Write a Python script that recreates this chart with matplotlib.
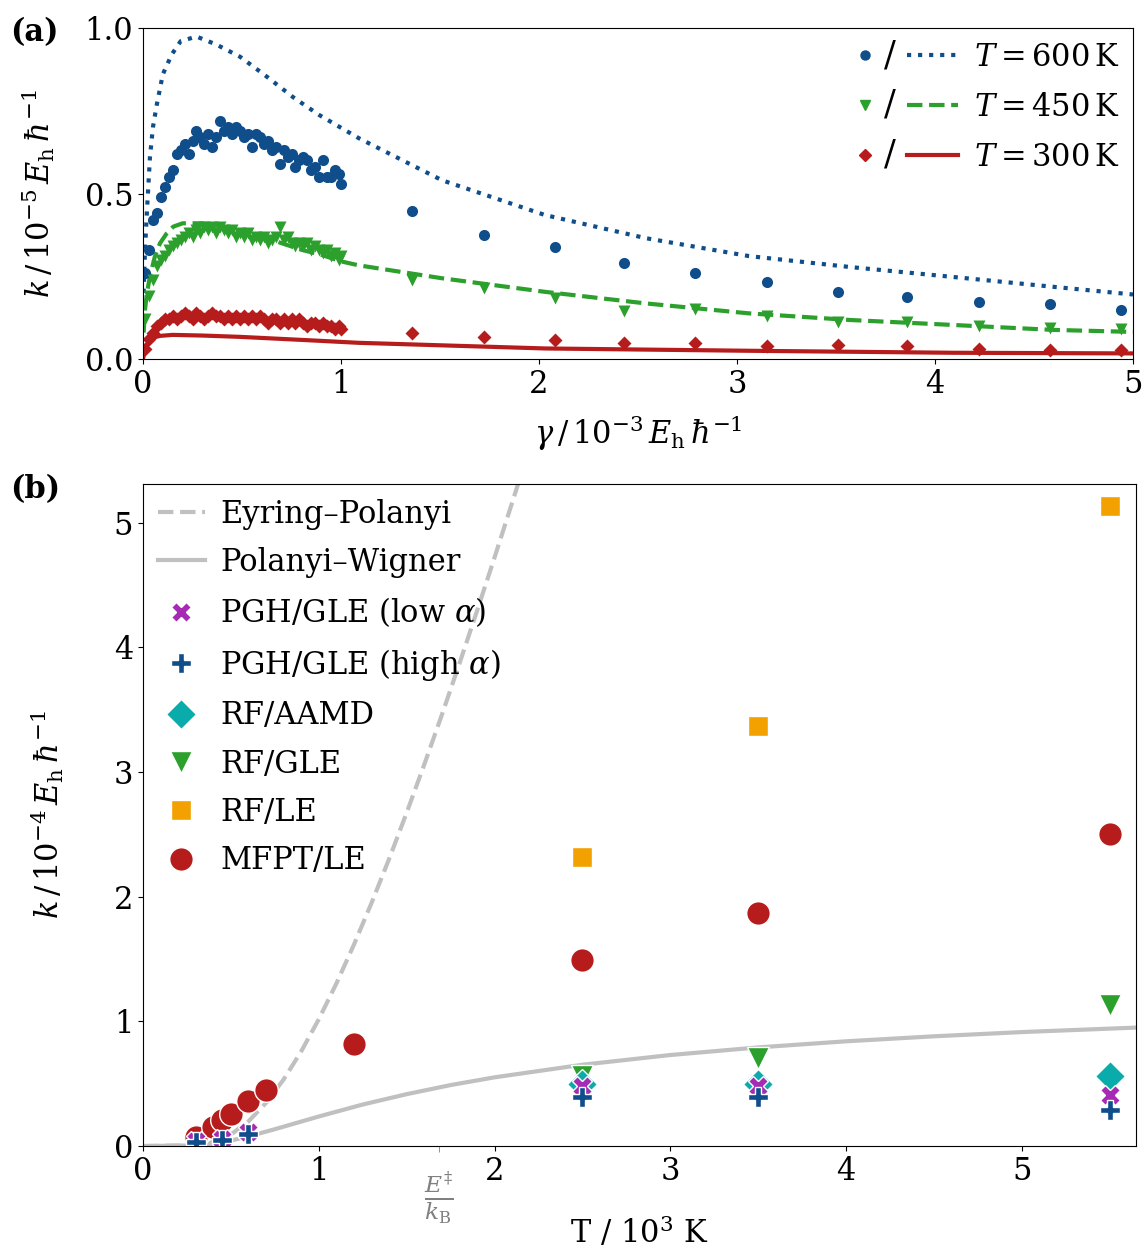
import numpy as np
import matplotlib
matplotlib.use("Agg")
import matplotlib.pyplot as plt
from matplotlib.lines import Line2D
from matplotlib.text import Text
from matplotlib.legend_handler import HandlerBase

plt.rcParams['font.family'] = ['DejaVu Serif']
plt.rcParams['mathtext.fontset'] = 'dejavuserif'
plt.rcParams['font.size'] = 22

# ---------------- Panel (a) data ----------------
gamma_dense = [0.01, 0.03, 0.05, 0.07, 0.09, 0.11, 0.13, 0.15, 0.17, 0.19,
               0.21, 0.23, 0.25, 0.27, 0.29, 0.31, 0.33, 0.35, 0.37, 0.39,
               0.41, 0.43, 0.45, 0.47, 0.49, 0.51, 0.53, 0.55, 0.57, 0.59,
               0.61, 0.63, 0.65, 0.67, 0.69, 0.71, 0.73, 0.75, 0.77, 0.79,
               0.81, 0.83, 0.85, 0.87, 0.89, 0.91, 0.93, 0.95, 0.97, 0.99, 1.00]
k600_dense = [0.26, 0.33, 0.42, 0.44, 0.49, 0.52, 0.55, 0.57, 0.62, 0.63,
              0.65, 0.62, 0.66, 0.69, 0.67, 0.65, 0.68, 0.64, 0.67, 0.72,
              0.69, 0.70, 0.68, 0.70, 0.69, 0.67, 0.68, 0.64, 0.68, 0.67,
              0.65, 0.66, 0.63, 0.64, 0.59, 0.63, 0.61, 0.62, 0.58, 0.60,
              0.61, 0.60, 0.57, 0.58, 0.55, 0.60, 0.55, 0.55, 0.57, 0.56, 0.53]
k450_dense = [0.12, 0.19, 0.24, 0.28, 0.30, 0.31, 0.33, 0.34, 0.35, 0.36,
              0.37, 0.38, 0.37, 0.39, 0.38, 0.40, 0.39, 0.40, 0.38, 0.40,
              0.39, 0.38, 0.39, 0.37, 0.38, 0.37, 0.38, 0.36, 0.37, 0.36,
              0.37, 0.35, 0.36, 0.37, 0.40, 0.36, 0.37, 0.35, 0.34, 0.35,
              0.34, 0.35, 0.33, 0.34, 0.33, 0.32, 0.33, 0.31, 0.32, 0.30, 0.31]
k300_dense = [0.03, 0.06, 0.08, 0.10, 0.11, 0.12, 0.12, 0.13, 0.12, 0.13,
              0.14, 0.13, 0.12, 0.14, 0.13, 0.12, 0.13, 0.14, 0.13, 0.13,
              0.12, 0.13, 0.12, 0.13, 0.12, 0.13, 0.12, 0.13, 0.12, 0.13,
              0.12, 0.11, 0.12, 0.12, 0.11, 0.12, 0.11, 0.12, 0.11, 0.12,
              0.11, 0.10, 0.11, 0.11, 0.10, 0.11, 0.10, 0.10, 0.09, 0.10, 0.09]

gamma_sparse = [1.36, 1.72, 2.08, 2.43, 2.79, 3.15, 3.51, 3.86, 4.22, 4.58, 4.94]
k600_sparse = [0.448, 0.374, 0.337, 0.291, 0.259, 0.232, 0.203, 0.188, 0.171, 0.166, 0.148]
k450_sparse = [0.240, 0.214, 0.183, 0.145, 0.150, 0.130, 0.113, 0.113, 0.100, 0.093, 0.090]
k300_sparse = [0.080, 0.066, 0.057, 0.047, 0.049, 0.039, 0.042, 0.039, 0.029, 0.028, 0.028]

gamma_c600 = [0.003, 0.01, 0.02, 0.035, 0.05, 0.07, 0.10, 0.145, 0.19, 0.27, 0.37,
              0.49, 0.625, 0.76, 0.89, 1.09, 1.51, 2.03, 2.54, 3.06, 3.57, 4.09, 4.6, 5.0]
k600_curve = [0.20, 0.33, 0.45, 0.61, 0.70, 0.77, 0.86, 0.92, 0.96, 0.974, 0.95,
              0.913, 0.853, 0.79, 0.737, 0.667, 0.54, 0.435, 0.365, 0.311, 0.278, 0.248, 0.218, 0.195]
gamma_c450 = [0.003, 0.01, 0.02, 0.035, 0.06, 0.086, 0.12, 0.153, 0.2, 0.3, 0.4,
              0.5, 0.6, 0.7, 0.8, 0.9, 1.0, 1.09, 1.51, 2.03, 2.54, 3.06, 3.57, 4.09, 4.6, 5.0]
k450_curve = [0.08, 0.15, 0.20, 0.25, 0.31, 0.35, 0.38, 0.40, 0.41, 0.41, 0.40,
              0.385, 0.37, 0.35, 0.33, 0.315, 0.295, 0.283, 0.244, 0.203, 0.168, 0.138, 0.118, 0.103, 0.088, 0.082]
gamma_c300 = [0.0, 0.01, 0.035, 0.06, 0.086, 0.15, 0.3, 0.49, 0.83, 1.09, 2.03, 3.06, 4.09, 5.0]
k300_curve = [0.0, 0.03, 0.057, 0.066, 0.070, 0.073, 0.071, 0.067, 0.057, 0.049, 0.032, 0.025, 0.019, 0.017]

temps_a = ['600', '450', '300']

# ---------------- Panel (b) data ----------------
T_eyring = [0.0, 0.3, 0.38, 0.45, 0.51, 0.6, 0.7, 0.8, 0.9, 1.0, 1.1, 1.2, 1.3, 1.4,
            1.5, 1.6, 1.7, 1.8, 1.9, 2.0, 2.1, 2.2]
k_eyring = [0.0, 0.006, 0.025, 0.058, 0.103, 0.198, 0.346, 0.534, 0.759, 1.017, 1.303,
            1.615, 1.949, 2.302, 2.673, 3.059, 3.457, 3.868, 4.290, 4.720, 5.159, 5.605]
T_pw = [0.0, 0.3, 0.4, 0.5, 0.6, 0.75, 1.0, 1.25, 1.5, 1.75, 2.0, 2.5, 3.0, 3.5,
        4.0, 4.5, 5.0, 5.65]
k_pw = [0.0, 0.005, 0.019, 0.044, 0.077, 0.135, 0.237, 0.333, 0.416, 0.489, 0.551,
        0.652, 0.730, 0.791, 0.840, 0.880, 0.914, 0.950]

T_pgh = [0.3, 0.45, 0.6, 2.5, 3.5, 5.5]
k_pgh_low = [0.04, 0.06, 0.11, 0.48, 0.48, 0.41]
k_pgh_high = [0.03, 0.05, 0.10, 0.39, 0.39, 0.29]
T_rf = [2.5, 3.5, 5.5]
k_rf_aamd = [0.50, 0.50, 0.56]
k_rf_gle = [0.56, 0.71, 1.13]
k_rf_le = [2.32, 3.37, 5.13]
T_mfpt = [0.3, 0.4, 0.45, 0.5, 0.6, 0.7, 1.2, 2.5, 3.5, 5.5]
k_mfpt = [0.07, 0.155, 0.21, 0.26, 0.36, 0.45, 0.82, 1.49, 1.87, 2.50]

E_over_kB = 1.685

# colours
c_blue = '#104e8b'
c_green = '#2ca02c'
c_red = '#b71c1c'
c_purple = '#a52ab4'
c_cyan = '#0aabab'
c_orange = '#f2a100'
c_gray = '#c0c0c0'


class MarkerSlashLine(HandlerBase):
    def create_artists(self, legend, orig_handle, xdescent, ydescent,
                       width, height, fontsize, trans):
        mk, ln = orig_handle
        y = height / 2.0 - ydescent
        x0 = -xdescent
        m = Line2D([x0 + width * 0.07], [y], marker=mk.get_marker(),
                   color=mk.get_color(), markersize=mk.get_markersize(),
                   linestyle='none', transform=trans)
        s = Text(x0 + width * 0.32, y, '/', ha='center', va='center',
                 fontsize=fontsize * 1.15, transform=trans)
        l = Line2D([x0 + width * 0.49, x0 + width], [y, y], color=ln.get_color(),
                   linestyle=ln.get_linestyle(), linewidth=ln.get_linewidth(),
                   transform=trans)
        return [m, s, l]


fig = plt.figure(figsize=(11.47, 12.48), dpi=100)
ax1 = fig.add_axes([0.1247, 0.7123, 0.8631, 0.2653])
ax2 = fig.add_axes([0.1247, 0.0817, 0.8657, 0.5305])

# ----- panel (a) -----
ax1.plot(gamma_c600, k600_curve, linestyle=':', color=c_blue, lw=3)
ax1.plot(gamma_c450, k450_curve, linestyle='--', color=c_green, lw=3)
ax1.plot(gamma_c300, k300_curve, linestyle='-', color=c_red, lw=3)
ax1.plot(gamma_dense + gamma_sparse, k600_dense + k600_sparse, 'o', color=c_blue, ms=8, mec='none')
ax1.plot(gamma_dense + gamma_sparse, k450_dense + k450_sparse, 'v', color=c_green, ms=8.5, mec='none')
ax1.plot(gamma_dense + gamma_sparse, k300_dense + k300_sparse, 'D', color=c_red, ms=7, mec='none')

ax1.set_xlim(0, 5)
ax1.set_ylim(0, 1.0)
ax1.set_xticks([0, 1, 2, 3, 4, 5])
ax1.set_yticks([0.0, 0.5, 1.0])
ax1.set_yticklabels(['0.0', '0.5', '1.0'])
ax1.set_xlabel(r'$\gamma\,/\,10^{-3}\,E_\mathrm{h}\,\hbar^{-1}$', labelpad=10)
ax1.set_ylabel(r'$k\,/\,10^{-5}\,E_\mathrm{h}\,\hbar^{-1}$')
ax1.yaxis.set_label_coords(-0.087, 0.5)

handles_a = [
    (Line2D([], [], marker='o', color=c_blue, ms=6.5, ls='none'), Line2D([], [], color=c_blue, ls=':', lw=3)),
    (Line2D([], [], marker='v', color=c_green, ms=6.5, ls='none'), Line2D([], [], color=c_green, ls='--', lw=3)),
    (Line2D([], [], marker='D', color=c_red, ms=6, ls='none'), Line2D([], [], color=c_red, ls='-', lw=3)),
]
labels_a = [r'$T = %s\,\mathrm{K}$' % t for t in temps_a]
ax1.legend(handles_a, labels_a, handler_map={tuple: MarkerSlashLine()},
           loc='upper right', frameon=False, handlelength=3.3, handletextpad=0.5,
           labelspacing=0.62, borderaxespad=0.05)

# ----- panel (b) -----
ax2.plot(T_eyring, k_eyring, linestyle='--', color=c_gray, lw=3, label='Eyring–Polanyi')
ax2.plot(T_pw, k_pw, linestyle='-', color=c_gray, lw=3, label='Polanyi–Wigner')
h_mfpt, = ax2.plot(T_mfpt, k_mfpt, 'o', color=c_red, ms=17, mec='white', mew=1, ls='none', label='MFPT/LE')
h_le, = ax2.plot(T_rf, k_rf_le, 's', color=c_orange, ms=15, mec='white', mew=1, ls='none', label='RF/LE')
h_gle, = ax2.plot(T_rf, k_rf_gle, 'v', color=c_green, ms=16, mec='white', mew=1, ls='none', label='RF/GLE')
h_aamd, = ax2.plot(T_rf, k_rf_aamd, 'D', color=c_cyan, ms=15, mec='white', mew=1, ls='none', label='RF/AAMD')
h_low, = ax2.plot(T_pgh, k_pgh_low, 'X', color=c_purple, ms=15, mec='white', mew=1, ls='none', label=r'PGH/GLE (low $\alpha$)')
h_high, = ax2.plot(T_pgh, k_pgh_high, 'P', color=c_blue, ms=15, mec='white', mew=1, ls='none', label=r'PGH/GLE (high $\alpha$)')

ax2.set_xlim(0, 5.65)
ax2.set_ylim(0, 5.31)
ax2.set_xticks([0, 1, 2, 3, 4, 5])
ax2.set_yticks([0, 1, 2, 3, 4, 5])
ax2.set_xticks([E_over_kB], minor=True)
ax2.set_xticklabels([r'$\frac{E^{\ddagger}}{k_\mathrm{B}}$'], minor=True)
ax2.tick_params(axis='x', which='minor', colors='gray', labelsize=24, length=4, pad=13)
ax2.set_xlabel('T / 10$^3$ K', labelpad=-8)
ax2.set_ylabel(r'$k\,/\,10^{-4}\,E_\mathrm{h}\,\hbar^{-1}$')
ax2.yaxis.set_label_coords(-0.078, 0.5)

lines = ax2.get_lines()
handles_b = [lines[0], lines[1], h_low, h_high, h_aamd, h_gle, h_le, h_mfpt]
ax2.legend(handles=handles_b, loc='upper left', frameon=False, handlelength=1.55,
           handletextpad=0.5, labelspacing=0.57, borderaxespad=0.08)

fig.text(0.009, 0.986, '(a)', fontweight='bold', fontsize=22, va='top')
fig.text(0.009, 0.620, '(b)', fontweight='bold', fontsize=22, va='top')

fig.savefig('out.png', dpi=100)
